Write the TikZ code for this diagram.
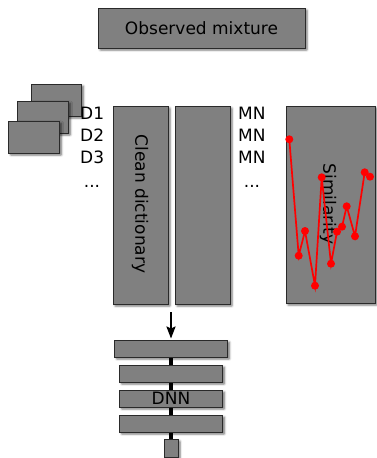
\documentclass[tikz,border=0pt]{standalone}
\usepackage{fontspec}
\setmainfont{DejaVu Sans}
\usetikzlibrary{shadows.blur,arrows.meta,backgrounds}
\definecolor{boxgray}{HTML}{808080}
\definecolor{edgegray}{HTML}{2A2A2A}
\tikzset{
  gbox/.style={draw=edgegray,fill=boxgray,line width=0.9pt,inner sep=0pt,
    blur shadow={shadow xshift=2pt,shadow yshift=-2pt,shadow blur steps=5,shadow opacity=55,shadow blur extra rounding=0.5pt},
    font=\fontsize{17}{20}\selectfont},
  lbl/.style={inner sep=0pt,font=\fontsize{17}{20}\selectfont},
  simline/.style={red,line width=1.7pt},
  simdot/.style={circle,fill=red,inner sep=0pt,minimum size=8pt},
}
\begin{document}
\begin{tikzpicture}[x=1pt,y=-1pt]
\useasboundingbox (0,0) rectangle (376,458);
% observed mixture
\node[gbox,minimum width=207pt,minimum height=40pt] (obs) at (201.5,28) {Observed mixture};
% stacked boxes
\node[gbox,minimum width=50pt,minimum height=32pt] (s1) at (56.5,100) {};
\node[gbox,minimum width=51pt,minimum height=32pt] (s2) at (43,117) {};
\node[gbox,minimum width=51pt,minimum height=32pt] (s3) at (34,137) {};
% D labels
\node[lbl,anchor=base west] (d1) at (80,119) {D1};
\node[lbl,anchor=base west] (d2) at (80,141) {D2};
\node[lbl,anchor=base west] (d3) at (80,163) {D3};
\node[lbl,anchor=base] (dd) at (92,187) {...};
% dictionary columns
\node[gbox,minimum width=55pt,minimum height=198pt] (dict) at (140.5,205) {};
\node[lbl,rotate=-90] (dicttext) at (140,204) {Clean dictionary};
\node[gbox,minimum width=55pt,minimum height=198pt] (dict2) at (202.5,205) {};
% MN labels
\node[lbl,anchor=base west] (m1) at (238,119) {MN};
\node[lbl,anchor=base west] (m2) at (238,141) {MN};
\node[lbl,anchor=base west] (m3) at (238,163) {MN};
\node[lbl,anchor=base] (md) at (252,187) {...};
% similarity
\node[gbox,minimum width=89pt,minimum height=197pt] (sim) at (330.5,204.5) {};
\node[lbl,rotate=-90] (simtext) at (328,204) {Similarity};
\draw[simline] plot coordinates {(289.3,139.3) (298.7,255.7) (305,231) (315,285.7) (321.7,177.3) (331,263.7) (337,231.7) (342,226.7) (346.7,206.3) (355,236.3) (364.7,172.3) (370,176.7)};
\foreach \p [count=\i] in {(289.3,139.3),(298.7,255.7),(305,231),(315,285.7),(321.7,177.3),(331,263.7),(337,231.7),(342,226.7),(346.7,206.3),(355,236.3),(364.7,172.3),(370,176.7)}
  \node[simdot] (p\i) at \p {};
% arrow
\coordinate (astart) at (171,312);
% DNN
\node[gbox,minimum width=113pt,minimum height=17pt] (l1) at (171,348.5) {};
\node[gbox,minimum width=103pt,minimum height=17pt] (l2) at (171,373.5) {};
\node[gbox,minimum width=103pt,minimum height=17pt] (l3) at (171,398.5) {DNN};
\node[gbox,minimum width=103pt,minimum height=17pt] (l4) at (171,423.5) {};
\node[gbox,minimum width=14pt,minimum height=18pt] (out) at (171,448) {};
\draw[-{Stealth[length=12pt,width=9pt,inset=2pt]},line width=2.2pt] (astart) -- ([yshift=1pt]l1.north);
\begin{scope}[on background layer]
\draw[line width=3.5pt] (l1.center) -- (out.center);
\end{scope}
\end{tikzpicture}
\end{document}
